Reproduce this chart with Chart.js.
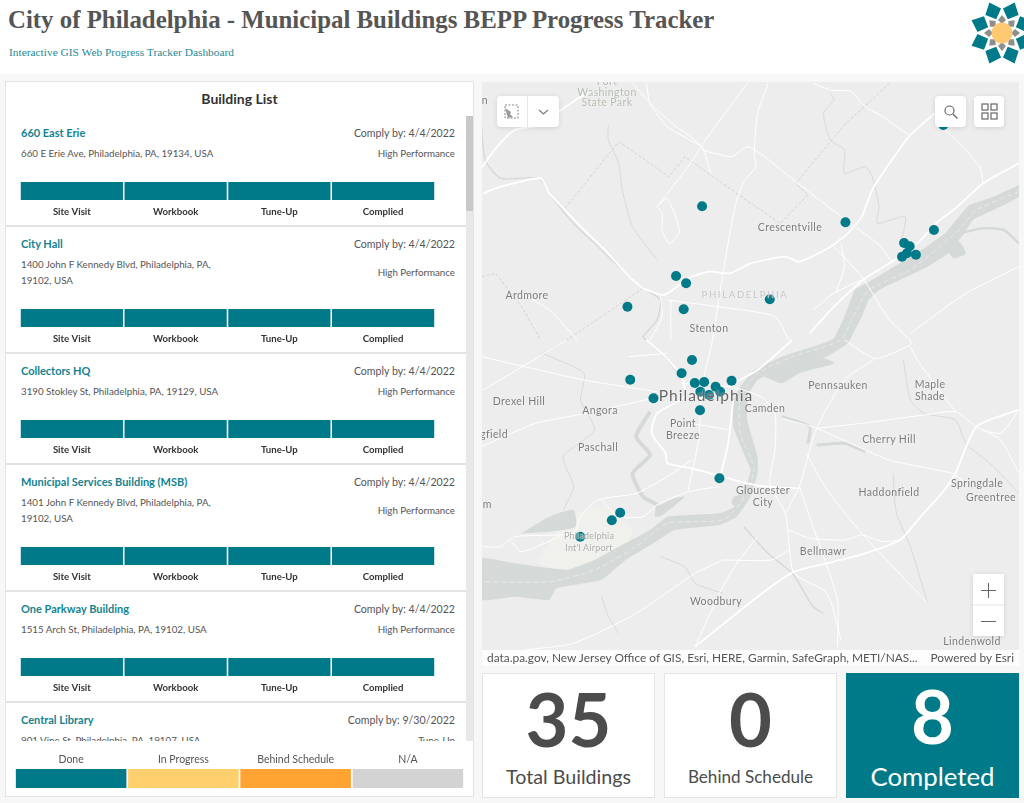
<!DOCTYPE html>
<html>
<head>
<meta charset="utf-8">
<title>BEPP Progress Tracker</title>
<script src="https://cdn.jsdelivr.net/npm/chart.js@4"></script>
<style>
  html, body { margin: 0; padding: 0; }
  body { width: 1024px; height: 803px; overflow: hidden; background: #f7f7f7; font-family: Lato, sans-serif; position: relative; }
  #header { position: absolute; left: 0; top: 0; width: 1024px; height: 74px; background: #fff; overflow: hidden; }
  #title { position: absolute; left: 8px; top: 6px; font: bold 24.85px "Liberation Serif", serif; color: #555; white-space: nowrap; }
  #subtitle { position: absolute; left: 9px; top: 46px; font: 11.4px "Liberation Serif", serif; color: #1f8a96; white-space: nowrap; }
  #logo { position: absolute; left: 964px; top: 0; }

  .panel { position: absolute; background: #fff; border: 1px solid #e4e4e4; box-sizing: border-box; }
  #listPanel { left: 5px; top: 81px; width: 469px; height: 716px; overflow: hidden; }
  #listTitle { position: absolute; left: 0; right: 0; top: 8px; text-align: center; font-size: 14px; font-weight: 700; color: #333; }
  #listBody { position: absolute; left: 0; top: 34px; width: 460px; height: 625px; overflow: hidden; }
  #scrollTrack { position: absolute; left: 460px; top: 34px; width: 8px; height: 625px; background: #e8e8e8; }
  #scrollThumb { position: absolute; left: 0; top: 0; width: 8px; height: 95px; background: #c8c8c8; }
  .item { box-sizing: border-box; border-bottom: 2px solid #e3e3e3; padding: 7px 11px 0 15px; position: relative; }
  .rowTop, .rowAddr { display: flex; justify-content: space-between; }
  .rowTop { height: 20px; line-height: 20px; }
  .rowAddr { align-items: center; margin-top: 1.500px; font-size: 9.75px; color: #555; line-height: 16.5px; }
  .name { font-size: 11px; font-weight: 700; color: #14838f; }
  .comply { font-size: 10.6px; color: #555; }
  .barWrap { position: relative; margin: 20.500px 0 0 -1px; width: 415px; height: 38px; }
  #legendWrap { position: absolute; left: 0; top: 659px; width: 467px; height: 56px; background: #fff; }
  #legendBox { position: absolute; left: 9px; top: 11px; width: 449px; height: 36px; }

  #mapBox { position: absolute; left: 482px; top: 82px; width: 537px; height: 584px; background: #ededed; overflow: hidden; }
  .lbl { position: absolute; transform: translate(-50%, -50%); text-align: center; white-space: nowrap; font-size: 10.5px; letter-spacing: 0.4px; color: #7b7b7b; line-height: 12px; text-shadow: 0 0 2px rgba(255,255,255,0.85); }
  .tool { position: absolute; background: #fff; border-radius: 4px; box-shadow: 0 1px 5px rgba(0,0,0,0.12); display: flex; align-items: center; justify-content: center; }
  #attrib { position: absolute; left: 0; top: 568px; width: 537px; height: 16px; background: rgba(255,255,255,0.85); font-size: 11.9px; color: #555; line-height: 16px; }

  .stat { position: absolute; top: 673px; height: 125px; background: #fff; border: 1px solid #e4e4e4; box-sizing: border-box; text-align: center; color: #4c4c4c; }
  .stat .num { position: absolute; left: 0; right: 0; top: 3px; font-size: 74px; font-weight: 700; line-height: 84px; }
  .stat .cap { position: absolute; left: 0; right: 0; top: 91px; line-height: 24px; }
  #statDone { background: #007a88; border-color: #007a88; color: #fff; }
  #statDone .num { top: 0; }
  #statDone .cap { top: 90px; }
</style>
</head>
<body>
<div id="header">
  <div id="title"></div>
  <div id="subtitle"></div>
  <svg id="logo" width="60" height="70" viewBox="-38 -33 60 70"></svg>
</div>

<div class="panel" id="listPanel">
  <div id="listTitle">Building List</div>
  <div id="listBody"></div>
  <div id="scrollTrack"><div id="scrollThumb"></div></div>
  <div id="legendWrap"><div id="legendBox"><canvas id="legendChart"></canvas></div></div>
</div>

<div id="mapBox">
  <canvas id="mapChart"></canvas>
  <div id="mapLabels"></div>
  <div class="tool" style="left:15px;top:14px;width:62px;height:31px;">
    <svg width="62" height="31" viewBox="0 0 62 31">
      <rect x="8" y="9" width="13" height="13" fill="none" stroke="#888" stroke-dasharray="2 1.5"/>
      <path d="M8 12l6 4-1 2 3 3-5 1z" fill="#999"/>
      <line x1="30.5" y1="0" x2="30.5" y2="31" stroke="#e6e6e6"/>
      <path d="M42 14l4.500 4 4.500-4" fill="none" stroke="#777" stroke-width="1.100"/>
    </svg>
  </div>
  <div class="tool" style="left:453px;top:14px;width:31px;height:31px;">
    <svg width="16" height="16" viewBox="0 0 16 16"><circle cx="6.500" cy="6.500" r="4.500" fill="none" stroke="#666" stroke-width="1.200"/><line x1="10" y1="10" x2="14.500" y2="14.500" stroke="#666" stroke-width="1.300"/></svg>
  </div>
  <div class="tool" style="left:492px;top:14px;width:30px;height:31px;">
    <svg width="17" height="17" viewBox="0 0 17 17"><g fill="none" stroke="#666" stroke-width="1.200"><rect x="1" y="1" width="6" height="6"/><rect x="10" y="1" width="6" height="6"/><rect x="1" y="10" width="6" height="6"/><rect x="10" y="10" width="6" height="6"/></g></svg>
  </div>
  <div class="tool" style="left:491px;top:492px;width:31px;height:62px;border-radius:0;">
    <svg width="31" height="62" viewBox="0 0 31 62"><path d="M15.500 9v15M8 16.500h15M8 47.500h15" stroke="#666" stroke-width="1.100"/><line x1="0" y1="31" x2="31" y2="31" stroke="#e4e4e4"/></svg>
  </div>
  <div id="attrib">
    <span id="attribLeft" style="position:absolute;left:5px;"></span>
    <span id="attribRight" style="position:absolute;right:5px;"></span>
  </div>
</div>

<div class="stat" style="left:482px;width:173px;"><div class="num" id="numTotal"></div><div class="cap" id="capTotal" style="font-size:19.7px;"></div></div>
<div class="stat" style="left:664px;width:173px;"><div class="num" id="numBehind"></div><div class="cap" id="capBehind" style="font-size:17.1px;"></div></div>
<div class="stat" id="statDone" style="left:846px;width:173px;"><div class="num" id="numDone"></div><div class="cap" id="capDone" style="font-size:25.8px;"></div></div>

<script>
const titleText = "City of Philadelphia - Municipal Buildings BEPP Progress Tracker";
const subtitleText = "Interactive GIS Web Progress Tracker Dashboard";

const stages = ["Site Visit", "Workbook", "Tune-Up", "Complied"];
const statusLabels = ["Done", "In Progress", "Behind Schedule", "N/A"];
const statusColors = ["#007a88", "#ffcf6e", "#ffa433", "#d3d3d3"];

const buildingNames = ["660 East Erie", "City Hall", "Collectors HQ", "Municipal Services Building (MSB)", "One Parkway Building", "Central Library"];
const buildingAddress = [
  ["660 E Erie Ave, Philadelphia, PA, 19134, USA"],
  ["1400 John F Kennedy Blvd, Philadelphia, PA,", "19102, USA"],
  ["3190 Stokley St, Philadelphia, PA, 19129, USA"],
  ["1401 John F Kennedy Blvd, Philadelphia, PA,", "19102, USA"],
  ["1515 Arch St, Philadelphia, PA, 19102, USA"],
  ["901 Vine St, Philadelphia, PA, 19107, USA"],
];
const complyDates = ["4/4/2022", "4/4/2022", "4/4/2022", "4/4/2022", "4/4/2022", "9/30/2022"];
const programs = ["High Performance", "High Performance", "High Performance", "High Performance", "High Performance", "Tune-Up"];
// index into statusLabels for each stage of each building
const stageStatus = [[0, 0, 0, 0], [0, 0, 0, 0], [0, 0, 0, 0], [0, 0, 0, 0], [0, 0, 0, 0], [0, 0, 0, 0]];

const statValues = [35, 0, 8];
const statCaptions = ["Total Buildings", "Behind Schedule", "Completed"];

const buildingX = [640, 1053, 1308, 1222, 1238, 1256, 1216, 1230, 565, 594, 587, 425, 835, 1335, 611, 581, 433, 619, 646, 679, 725, 500, 634, 635, 660, 692, 690, 404, 380, 289];
const buildingY = [619, 667, 690, 729, 739, 764, 770, 760, 828, 850, 928, 920, 898, 375, 1080, 1120, 1139, 1149, 1146, 1160, 1142, 1195, 1231, 1175, 1185, 1175, 1435, 1538, 1561, 1610];

const delaware = [[1553,555],[1480,590],[1410,615],[1380,650],[1340,700],[1280,745],[1210,790],[1130,840],[1080,870],[1050,950],[1020,1015],[990,1030],[870,1070],[790,1110],[750,1160],[730,1200],[730,1280],[760,1360],[780,1410],[770,1450],[735,1520],[690,1540],[540,1550],[490,1590],[400,1640],[330,1680],[250,1710],[100,1690],[5,1675],[5,1800],[100,1790],[200,1800],[220,1765],[350,1740],[420,1680],[500,1630],[560,1590],[690,1575],[740,1550],[780,1490],[800,1420],[800,1370],[770,1260],[770,1190],[800,1140],[880,1100],[1000,1070],[1060,1030],[1075,1000],[1100,950],[1120,900],[1150,870],[1220,835],[1290,800],[1350,760],[1395,700],[1420,660],[1490,625],[1553,590],[1553,555]];
const channel = [[1553,575],[1430,630],[1380,690],[1240,810],[1120,870],[1075,950],[1040,1020],[900,1070],[800,1120],[750,1190],[750,1300],[790,1410],[750,1510],[700,1560],[540,1570],[450,1640],[330,1710],[200,1745],[5,1745]];
const airportField = [[270,1540],[360,1520],[440,1590],[400,1660],[300,1710],[170,1690],[210,1610],[270,1540]];
const marsh = [[120,1600],[200,1550],[270,1530],[275,1580],[200,1595],[120,1600]];
const cooperMouth = [[820,1130],[870,1150],[920,1120],[1020,1090],[980,1070],[900,1085],[850,1110],[820,1130]];
const pond = [[1340,740],[1380,725],[1400,760],[1365,775],[1340,740]];
const inletA = [[510,1520],[560,1495],[590,1490],[545,1530],[515,1550],[510,1520]];
const inletB = [[730,1490],[760,1480],[750,1530],[725,1510],[730,1490]];

const schuylkillUpper = [[5,380],[15,480],[60,535],[170,535],[210,595],[270,670],[350,750],[420,820],[465,860],[520,900],[510,960],[470,1010],[480,1020],[530,1065],[570,1120]];
const schuylkillLower = [[490,1235],[450,1310],[490,1365],[440,1420],[470,1490],[510,1515],[510,1550]];
const creekA = [[1380,700],[1450,685],[1510,690],[1553,730]];
const creekB = [[870,1250],[950,1280],[945,1330]];
const creekC = [[970,1335],[1050,1330],[1110,1355]];
const creekD = [[760,1580],[830,1660],[900,1720],[960,1820],[990,1840]];

const thinCreeks = [
  [[370,375],[370,420],[400,490],[410,570],[440,680],[510,780]],
  [[1010,280],[1020,300],[990,340],[1010,420],[1050,450],[1050,520],[1110,500],[1130,530],[1150,620],[1145,670],[1225,650],[1215,720]],
  [[180,1060],[300,1120],[290,1200],[330,1290],[240,1370],[270,1460],[240,1530]],
  [[1190,1420],[1200,1540],[1240,1640],[1290,1810]],
  [[1220,1080],[1240,1200],[1280,1240],[1370,1260],[1400,1330],[1480,1400],[1553,1480]],
  [[350,1790],[370,1850],[400,1900]],
  [[520,1670],[590,1700],[620,1750],[700,1780]],
];

const countyLines = [
  [[245,625],[400,425],[545,530],[590,470],[760,595],[865,670],[945,585],[910,550],[1050,375],[1180,250]],
  [[470,865],[250,1020],[170,1070]],
  [[5,830],[45,820],[120,920],[175,1020]],
];

const mainRoads = [
  [[470,865],[530,885],[600,835],[660,815],[720,820],[780,790],[880,770],[920,785],[1010,740],[1060,700],[1100,650],[1130,570],[1180,490],[1240,405],[1310,340]],
  [[950,1000],[1020,920],[1110,835],[1180,790],[1260,730],[1320,665],[1370,625],[1450,550],[1553,490]],
  [[1550,1230],[1430,1280],[1370,1420],[1330,1480],[1270,1550],[1210,1620],[1110,1660],[1000,1690],[905,1715],[800,1790],[620,1940]],
  [[10,580],[60,560],[175,535],[200,580],[245,630],[300,690],[360,750],[430,830],[470,865]],
  [[0,510],[50,440],[100,390],[170,375],[290,290],[340,270]],
  [[730,1200],[715,1330],[695,1420]],
  [[730,1150],[800,1110],[900,1020]],
  [[480,1020],[530,1065],[580,1130],[590,1190],[510,1240],[495,1300],[535,1360],[540,1390],[610,1405],[770,1450],[830,1460],[915,1465]],
];

const minorRoads = [
  [[440,250],[500,320],[560,375],[640,440],[665,520]],
  [[480,250],[490,310],[540,380],[640,440]],
  [[770,250],[720,320],[650,420],[600,500],[510,620]],
  [[830,250],[800,340],[790,460],[795,500],[760,545],[735,620],[700,820],[670,1020],[640,1160],[630,1320],[600,1470]],
  [[640,450],[725,470],[770,440],[820,470],[910,545],[1080,680],[1150,735],[1190,790]],
  [[960,250],[1010,270],[1070,275],[1110,320],[1160,350],[1235,405]],
  [[1330,380],[1390,440],[1440,500],[1450,550]],
  [[1553,800],[1400,880],[1240,1000]],
  [[520,890],[525,950],[490,1020]],
  [[540,900],[720,925],[850,950],[890,1020]],
  [[960,930],[1020,880],[1110,835]],
  [[550,900],[550,1020]],
  [[120,880],[200,930],[280,1020]],
  [[1040,730],[1050,800],[1025,880]],
  [[1020,740],[1100,830],[1180,960],[1240,1020]],
  [[510,620],[540,595],[575,695],[545,730],[525,690],[525,640],[510,620]],
  [[5,1070],[300,1140],[510,1175]],
  [[5,1340],[160,1270],[280,1245],[500,1195]],
  [[10,1170],[170,1070],[250,1020]],
  [[610,1380],[540,1430],[450,1480],[340,1500],[290,1550],[270,1600],[100,1610],[60,1640],[5,1640]],
  [[690,1460],[600,1475],[510,1515],[470,1550],[400,1550],[350,1500]],
  [[610,1270],[720,1290]],
  [[540,1060],[430,1070]],
  [[580,1150],[720,1160],[810,1190],[850,1240],[850,1350],[835,1450],[880,1540],[890,1630],[905,1720],[1000,1780],[1040,1920]],
  [[90,1625],[120,1655],[230,1610]],
  [[870,1255],[970,1285],[1180,1380],[1360,1420],[1400,1450]],
  [[970,1285],[1100,1270],[1280,1245],[1370,1235],[1430,1280],[1500,1320],[1553,1420]],
  [[1240,1040],[1260,1080],[1370,1235]],
  [[1140,1075],[1050,1140],[970,1285],[920,1460],[880,1540]],
  [[940,1360],[1000,1470],[1100,1600],[1190,1700],[1290,1810]],
  [[920,1460],[960,1580],[1030,1800],[1030,1940]],
  [[1050,1020],[1140,1075],[1240,1035],[1240,1020]],
  [[890,1590],[950,1615],[1050,1620],[1100,1605],[1160,1625],[1210,1620]],
  [[700,1680],[840,1680],[890,1650]],
  [[700,1680],[620,1720],[450,1840],[270,1930],[130,1950]],
  [[800,1610],[740,1690],[690,1780],[620,1940]],
  [[1450,1290],[1500,1300],[1553,1230]],
];

const placeLabels = [
  ["Fort", 607, 81, "#b4bcae"], ["Washington", 607, 92, "#b4bcae"], ["State Park", 607, 102, "#b4bcae"], ["n", 485, 100],
  ["Crescentville", 790, 227], ["Ardmore", 527, 295], ["Stenton", 709, 328],
  ["Drexel Hill", 519, 401], ["Angora", 600, 410], ["Camden", 765, 408], ["Pennsauken", 838, 385],
  ["Maple<br>Shade", 930, 390], ["Point<br>Breeze", 683, 429], ["gfield", 494, 434], ["Cherry Hill", 889, 439],
  ["Paschall", 598, 447], ["Gloucester<br>City", 763, 496], ["Haddonfield", 889, 492], ["Springdale", 977, 483],
  ["Greentree", 991, 497], ["om", 484, 504], ["Bellmawr", 823, 551], ["Woodbury", 716, 601], ["Lindenwold", 972, 641],
];

function toPoints(pairs) {
  return pairs.map((p) => ({ x: p[0], y: p[1] }));
}

function lineSet(pairs, color, width, extra) {
  return Object.assign({
    data: toPoints(pairs),
    showLine: true,
    borderColor: color,
    backgroundColor: color,
    borderWidth: width,
    pointRadius: 0,
    pointHoverRadius: 0,
    tension: 0.2,
    fill: false,
  }, extra || {});
}

function drawMap() {
  const water = "#d5dad9";
  const datasets = [
    {
      data: buildingX.map((x, i) => ({ x: x, y: buildingY[i] })),
      pointRadius: 5,
      pointBackgroundColor: "#007a88",
      pointBorderWidth: 0,
    },
  ];
  mainRoads.forEach((r) => datasets.push(lineSet(r, "#ffffff", 1.8)));
  minorRoads.forEach((r) => datasets.push(lineSet(r, "#ffffff", 1)));
  datasets.push(lineSet(channel, "#eceeec", 0.8, { borderDash: [5, 3] }));
  countyLines.forEach((r) => datasets.push(lineSet(r, "#c9cbc9", 0.8, { borderDash: [3, 2], tension: 0 })));
  thinCreeks.forEach((r) => datasets.push(lineSet(r, "#d2d4d2", 0.8)));
  datasets.push(lineSet(schuylkillUpper, water, 1.5));
  datasets.push(lineSet(schuylkillLower, water, 4));
  datasets.push(lineSet(creekA, water, 2.5));
  datasets.push(lineSet(creekB, water, 3));
  datasets.push(lineSet(creekC, water, 3));
  datasets.push(lineSet(creekD, water, 1.5));
  [cooperMouth, pond, inletA, inletB, marsh].forEach((r) => datasets.push(lineSet(r, water, 0, { fill: "shape" })));
  datasets.push(lineSet(delaware, water, 0, { fill: "shape", tension: 0.1 }));
  datasets.push(lineSet(airportField, "#f0f0ec", 0, { fill: "shape" }));

  new Chart(document.getElementById("mapChart"), {
    type: "scatter",
    data: { datasets: datasets },
    options: {
      responsive: true,
      maintainAspectRatio: false,
      animation: false,
      layout: { autoPadding: false },
      plugins: { legend: { display: false }, tooltip: { enabled: false } },
      scales: {
        x: { type: "linear", min: 6, max: 1553, display: false },
        y: { type: "linear", min: 246, max: 1998, reverse: true, display: false },
      },
    },
  });
}

function stageChart(canvas, labels, colors, axisPos, tickFont, tickColor, axisHeight, tickPad) {
  return new Chart(canvas, {
    type: "bar",
    data: {
      labels: labels,
      datasets: [{ data: labels.map(() => 1), backgroundColor: colors, categoryPercentage: 0.985, barPercentage: 1 }],
    },
    options: {
      responsive: true,
      maintainAspectRatio: false,
      animation: false,
      plugins: { legend: { display: false }, tooltip: { enabled: false } },
      scales: {
        x: {
          position: axisPos,
          grid: { display: false, drawTicks: false, tickLength: 0 },
          border: { display: false },
          ticks: { color: tickColor, font: tickFont, maxRotation: 0, autoSkip: false, padding: tickPad },
          afterFit: (scale) => { scale.height = axisHeight; },
        },
        y: { display: false, min: 0, max: 1 },
      },
    },
  });
}

function buildList() {
  const body = document.getElementById("listBody");
  buildingNames.forEach((name, i) => {
    const item = document.createElement("div");
    item.className = "item";
    item.style.height = (buildingAddress[i].length > 1 ? 127 : 111) + "px";
    item.innerHTML =
      `<div class="rowTop"><span class="name">${name}</span><span class="comply">Comply by: ${complyDates[i]}</span></div>` +
      `<div class="rowAddr"><span>${buildingAddress[i].join("<br>")}</span><span>${programs[i]}</span></div>` +
      `<div class="barWrap"><canvas></canvas></div>`;
    body.appendChild(item);
    stageChart(
      item.querySelector("canvas"),
      stages,
      stageStatus[i].map((s) => statusColors[s]),
      "bottom",
      { family: "Lato", size: 9.6, weight: "bold" },
      "#333",
      20,
      6
    );
  });
}

function buildLabels() {
  const holder = document.getElementById("mapLabels");
  let html = "";
  placeLabels.forEach((l) => {
    const color = l[3] ? `color:${l[3]};` : "";
    html += `<div class="lbl" style="left:${l[1] - 482}px;top:${l[2] - 82}px;${color}">${l[0]}</div>`;
  });
  html += `<div class="lbl" style="left:263px;top:213px;color:#c4c4c4;letter-spacing:1.7px;font-size:9.5px;">PHILADELPHIA</div>`;
  html += `<div class="lbl" style="left:107px;top:460px;color:#a9aeaa;font-size:9px;letter-spacing:0.2px;">Philadelphia<br>Int'l Airport</div>`;
  html += `<div class="lbl" style="left:224px;top:313px;color:#666;font-size:15.5px;letter-spacing:1px;">Philadelphia</div>`;
  holder.innerHTML = html;
}

function buildLogo() {
  const svg = document.getElementById("logo");
  let html = "";
  for (let i = 0; i < 8; i++) {
    const a = 22.5 + i * 45;
    html += `<path transform="rotate(${a})" d="M0 -33 L8.500 -23 L0 -15 L-8.500 -23 Z" fill="#007a88"/>`;
    html += `<path transform="rotate(${a + 22.5})" d="M0 -18 L4 -13 L0 -9 L-4 -13 Z" fill="#8f8f8f"/>`;
  }
  html += `<circle r="10.500" fill="#ffc972"/>`;
  svg.innerHTML = html;
}

document.getElementById("title").textContent = titleText;
document.getElementById("subtitle").textContent = subtitleText;
document.getElementById("listTitle").textContent = "Building List";
document.getElementById("attribLeft").textContent = "data.pa.gov, New Jersey Office of GIS, Esri, HERE, Garmin, SafeGraph, METI/NAS...";
document.getElementById("attribRight").textContent = "Powered by Esri";
document.getElementById("numTotal").textContent = statValues[0];
document.getElementById("numBehind").textContent = statValues[1];
document.getElementById("numDone").textContent = statValues[2];
document.getElementById("capTotal").textContent = statCaptions[0];
document.getElementById("capBehind").textContent = statCaptions[1];
document.getElementById("capDone").textContent = statCaptions[2];

buildLogo();
buildLabels();
drawMap();
buildList();
stageChart(document.getElementById("legendChart"), statusLabels, statusColors, "top", { family: "Lato", size: 10.5 }, "#555", 17, 3);
</script>
</body>
</html>
